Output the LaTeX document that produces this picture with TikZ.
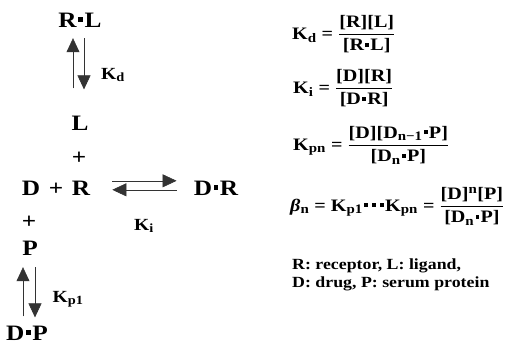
\documentclass[tikz,border=0pt]{standalone}
\usepackage{amsmath}
\usepackage{fontspec}
\setmainfont{Liberation Serif}[FakeStretch=1.15]
\usepackage{tikz}
\usetikzlibrary{arrows.meta,calc}
\DeclareMathSizes{17.5}{17.5}{13}{10}
\DeclareMathSizes{17}{17}{12.5}{9}
\newcommand{\bdot}{\kern0.07em\rule[0.24em]{0.22em}{0.22em}\kern0.07em}
\newcommand{\lbl}{\fontsize{22}{26}\selectfont\bfseries}
\newcommand{\eqf}{\fontsize{17.5}{21}\selectfont\bfseries}
\newcommand{\kf}{\fontsize{17}{20}\selectfont\bfseries}

\begin{document}
\begin{tikzpicture}[x=1pt,y=-1pt,
    spec/.style={inner sep=0pt,anchor=base,font=\lbl},
    eqn/.style={inner sep=0pt,anchor=base west,font=\eqf},
    reac/.style={line width=0.6pt,black!80,-{Triangle[width=13pt,length=14pt]}}]
      \useasboundingbox (0,0) rectangle (515,346);
      % Binding scheme
      \node[spec] (rl) at (80,27) {R\bdot L};
      \node[spec] (l) at (80,130) {L};
      \node[spec] (pl1) at (79,164) {+};
      \node[spec] (d) at (31,195) {D};
      \node[spec] (pl2) at (56,195) {+};
      \node[spec] (r) at (81,195) {R};
      \node[spec] (dr) at (216,195) {D\bdot R};
      \node[spec] (pl3) at (29,228) {+};
      \node[spec] (p) at (30,255) {P};
      \node[spec] (dp) at (27,340) {D\bdot P};
      \node[spec,font=\kf] (kd) at (113,79) {K$_{\textbf{d}}$};
      \node[spec,font=\kf] (ki) at (144,230) {K$_{\textbf{i}}$};
      \node[spec,font=\kf] (kp) at (68,302) {K$_{\textbf{p1}}$};
      \draw[reac,shorten <=27pt,shorten >=11pt] ([xshift=-7pt]l.north) -- ([xshift=-7pt]rl.south);
      \draw[reac,shorten <=11pt,shorten >=26pt] ([xshift=4pt]rl.south) -- ([xshift=4pt]l.north);
      \draw[reac,shorten <=22pt,shorten >=17pt] ([yshift=7pt]r.east) -- ([yshift=7pt]r.east -| dr.west);
      \draw[reac,shorten <=17pt,shorten >=22pt] ([yshift=-2pt]r.east -| dr.west) -- ([yshift=-2pt]r.east);
      \draw[reac,shorten <=9pt,shorten >=12pt] ([xshift=-7pt]p.south |- dp.north) -- ([xshift=-7pt]p.south);
      \draw[reac,shorten <=12pt,shorten >=8pt] ([xshift=5pt]p.south) -- ([xshift=5pt]p.south |- dp.north);
      % Constants
      \node[eqn] (eqkd) at (292,39) {K$_{\textbf{d}}$ = $\dfrac{\textbf{[R][L]}}{\textbf{[R\bdot L]}}$};
      \node[eqn] (eqki) at (293,93) {K$_{\textbf{i}}$ = $\dfrac{\textbf{[D][R]}}{\textbf{[D\bdot R]}}$};
      \node[eqn] (eqkp) at (293,150) {K$_{\textbf{pn}}$ = $\dfrac{\textbf{[D][D$_{\textbf{n−1}}$\bdot P]}}{\textbf{[D$_{\textbf{n}}$\bdot P]}}$};
      \node[eqn] (eqb) at (290,211) {\textit{β}$_{\textbf{n}}$ = K$_{\textbf{p1}}$\bdot\kern0.1em\bdot\kern0.1em\bdot K$_{\textbf{pn}}$ = $\dfrac{\textbf{[D]$^{\textbf{n}}$[P]}}{\textbf{[D$_{\textbf{n}}$\bdot P]}}$};
      % Legend
      \node[eqn,font=\fontsize{15.5}{17}\selectfont\bfseries] (leg1) at (292,269) {R: receptor, L: ligand,};
      \node[eqn,font=\fontsize{15.5}{17}\selectfont\bfseries] (leg2) at (292,287) {D: drug, P: serum protein};
    \end{tikzpicture}
\end{document}
